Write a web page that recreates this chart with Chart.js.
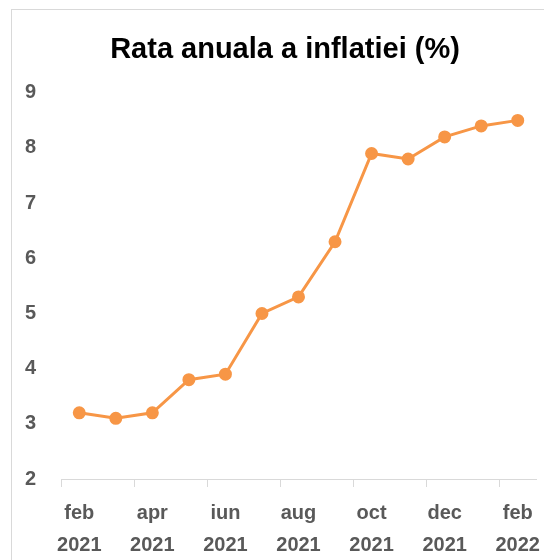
<!DOCTYPE html>
<html>
<head>
<meta charset="utf-8">
<script src="https://cdn.jsdelivr.net/npm/chart.js@4/dist/chart.umd.min.js"></script>
<style>
  html, body { margin: 0; padding: 0; background: #fff; }
  #wrap { width: 544px; height: 560px; position: relative; }
</style>
</head>
<body>
<div id="wrap"><canvas id="chart"></canvas></div>
<script>
const months = ["feb", "mar", "apr", "mai", "iun", "iul", "aug", "sep", "oct", "nov", "dec", "ian", "feb"];
const years = ["2021", "2021", "2021", "2021", "2021", "2021", "2021", "2021", "2021", "2021", "2021", "2022", "2022"];
const inflation = [3.2, 3.1, 3.2, 3.8, 3.9, 5.0, 5.3, 6.3, 7.9, 7.8, 8.2, 8.4, 8.5];

const labels = months.map((m, i) => [m, years[i]]);

const orange = "#F79646";
const tickGray = "#595959";
const axisGray = "#d9d9d9";
const fontFam = "'Liberation Sans', Arial, sans-serif";

// light frame round the chart (cut off at right and bottom like the original)
const framePlugin = {
    id: "frame",
    beforeDraw(chart) {
        const ctx = chart.ctx;
        ctx.save();
        ctx.fillStyle = "#fff";
        ctx.fillRect(0, 0, chart.width, chart.height);
        ctx.strokeStyle = axisGray;
        ctx.lineWidth = 1;
        ctx.strokeRect(11.5, 9.5, 700, 700);
        ctx.restore();
    }
};

new Chart(document.getElementById("chart").getContext("2d"), {
    type: "line",
    data: {
        labels: labels,
        datasets: [{
            data: inflation,
            borderColor: orange,
            backgroundColor: orange,
            borderWidth: 3,
            pointRadius: 5,
            pointHoverRadius: 5,
            tension: 0
        }]
    },
    options: {
        responsive: true,
        maintainAspectRatio: false,
        animation: false,
        layout: { padding: { left: 34, right: 8, top: 33, bottom: -11 } },
        plugins: {
            legend: { display: false },
            tooltip: { enabled: false },
            title: {
                display: true,
                text: "Rata anuala a inflatiei (%)",
                color: "#000",
                font: { family: fontFam, size: 29, weight: "bold" },
                padding: { top: 0, bottom: 25 }
            }
        },
        scales: {
            x: {
                offset: true,
                // let the last label run close to the edge, as in the original
                afterFit: (scale) => { scale.paddingRight = 0; },
                grid: {
                    offset: true,
                    drawOnChartArea: false,
                    tickLength: 8,
                    color: (c) => (c.index % 2 === 0 ? axisGray : "rgba(0,0,0,0)")
                },
                border: { display: true, color: axisGray, width: 1 },
                ticks: {
                    autoSkip: false,
                    maxRotation: 0,
                    padding: 10,
                    color: tickGray,
                    font: { family: fontFam, size: 20, weight: "bold", lineHeight: 1.6 },
                    callback: function (v, i) { return i % 2 === 0 ? labels[i] : ""; }
                }
            },
            y: {
                min: 2,
                max: 9,
                grid: { display: false },
                border: { display: false },
                // fixed axis width; mirrored labels so they are not clipped to it
                afterFit: (scale) => { scale.width = 27; },
                ticks: {
                    stepSize: 1,
                    mirror: true,
                    padding: -36,
                    color: tickGray,
                    font: { family: fontFam, size: 20, weight: "bold" }
                }
            }
        }
    },
    plugins: [framePlugin]
});
</script>
</body>
</html>
